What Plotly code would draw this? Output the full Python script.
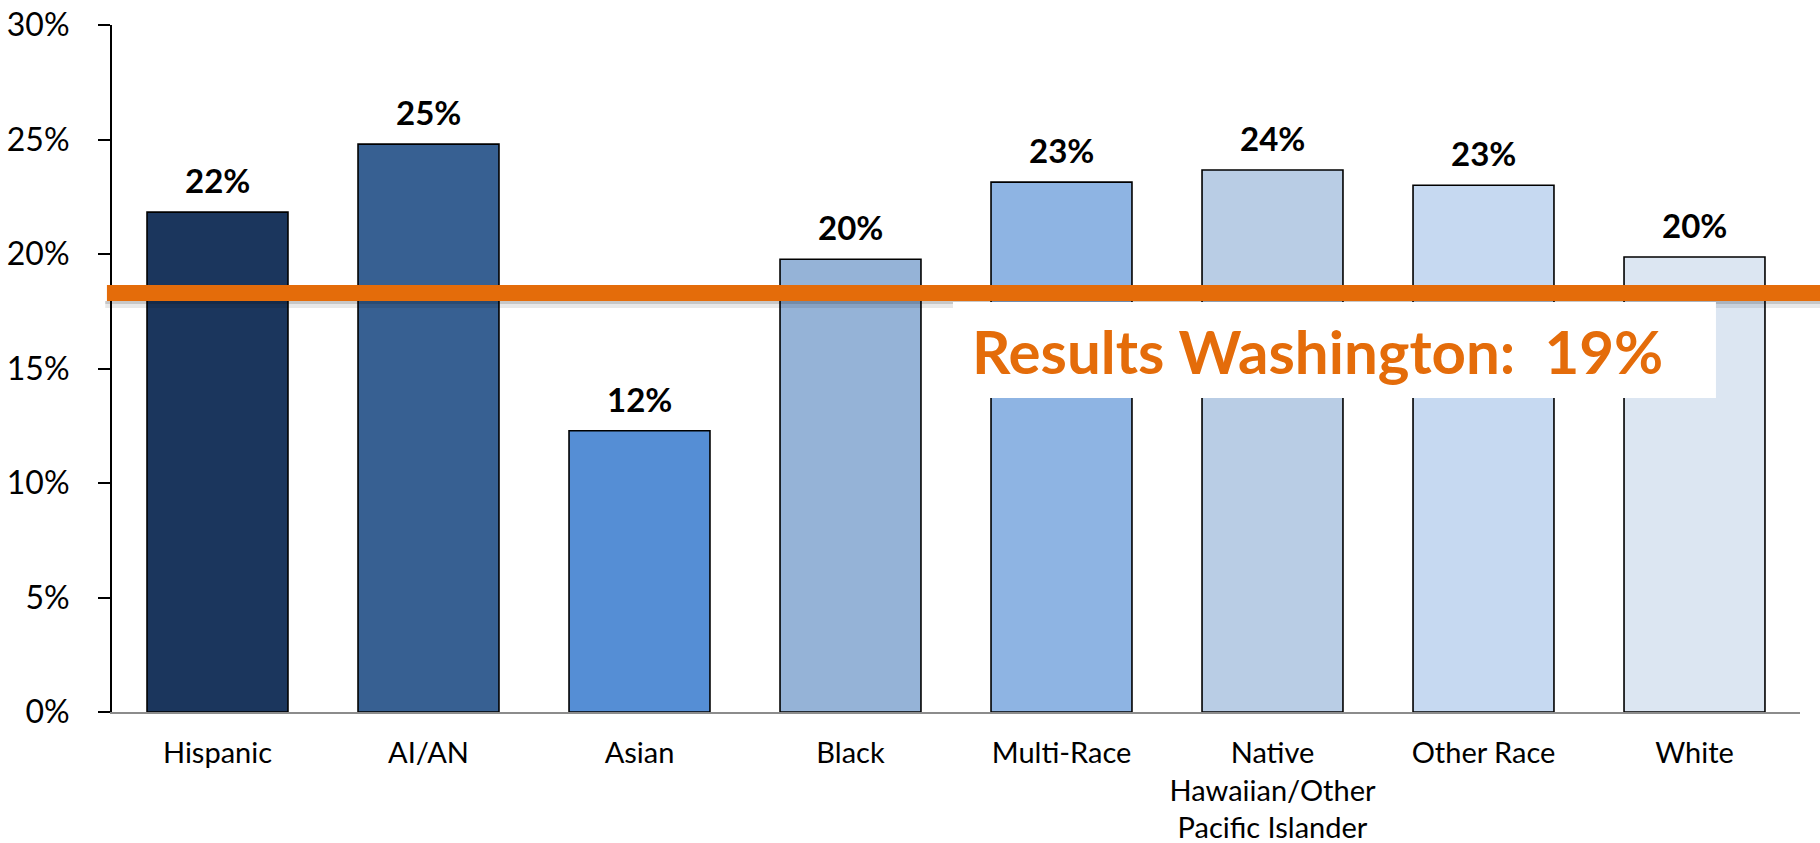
import plotly.graph_objects as go

categories = ["Hispanic", "AI/AN", "Asian", "Black", "Multi-Race",
              "Native<br>Hawaiian/Other<br>Pacific Islander", "Other Race", "White"]
values = [21.83, 24.80, 12.28, 19.77, 23.14, 23.67, 23.00, 19.87]
bar_colors = ["#1B365D", "#376092", "#558ED5", "#95B3D7", "#8EB4E3",
              "#B9CDE5", "#C6D9F1", "#DCE6F2"]
wa_value = 18.3
wa_label = "Results Washington:\u00a0 19%"
y_ticks = [0, 5, 10, 15, 20, 25, 30]
y_tick_labels = [f"{v}%" for v in y_ticks]

ORANGE = "#E46C0A"
FONT = "Lato"

fig = go.Figure()
fig.add_trace(go.Bar(
    x=categories, y=values,
    marker=dict(color=bar_colors, line=dict(color="#000000", width=1.6)),
    hoverinfo="skip",
))

annotations = []
for c, v in zip(categories, values):
    annotations.append(dict(
        x=c, y=v, xref="x", yref="y", text=f"<b>{round(v)}%</b>",
        showarrow=False, yanchor="bottom", yshift=10,
        font=dict(family=FONT, size=33, color="#000000"),
    ))

annotations.append(dict(
    x=0.5083, y=0.525, xref="paper", yref="paper", xanchor="left", yanchor="middle",
    text=f"<b>{wa_label}</b>", showarrow=False,
    font=dict(family=FONT, size=60, color=ORANGE),
))

shapes = [
    # shadow under the reference line
    dict(type="rect", xref="paper", yref="y", x0=-0.004, x1=1.02,
         ysizemode="pixel", yanchor=wa_value, y0=-11, y1=-8,
         fillcolor="rgba(0,0,0,0.22)", line=dict(width=0), layer="above"),
    dict(type="rect", xref="paper", yref="y", x0=-0.004, x1=1.02,
         ysizemode="pixel", yanchor=wa_value, y0=-15, y1=-11,
         fillcolor="rgba(0,0,0,0.09)", line=dict(width=0), layer="above"),
    # orange reference line
    dict(type="rect", xref="paper", yref="y", x0=-0.003, x1=1.02,
         ysizemode="pixel", yanchor=wa_value, y0=-8, y1=8,
         fillcolor=ORANGE, line=dict(width=0), layer="above"),
    # white label box
    dict(type="rect", xref="paper", yref="paper", x0=0.4982, x1=0.9502,
         y0=0.4571, y1=0.5968, fillcolor="#FFFFFF", line=dict(width=0), layer="above"),
]

fig.update_layout(
    width=1820, height=843,
    margin=dict(l=112, r=20, t=25, b=131, autoexpand=False),
    paper_bgcolor="#FFFFFF", plot_bgcolor="#FFFFFF",
    showlegend=False, bargap=0.332,
    annotations=annotations, shapes=shapes,
    font=dict(family=FONT, color="#000000"),
)
fig.update_xaxes(
    showline=True, linecolor="#8C8C8C", linewidth=2, ticks="",
    showgrid=False, zeroline=False, automargin=False,
    tickfont=dict(family=FONT, size=29, color="#000000"),
    ticklabelstandoff=14,
)
fig.update_yaxes(
    range=[0, 30], tickvals=y_ticks, ticktext=y_tick_labels,
    showline=True, linecolor="#000000", linewidth=2,
    ticks="outside", ticklen=12, tickwidth=2, tickcolor="#000000",
    showgrid=False, zeroline=False, automargin=False,
    tickfont=dict(family=FONT, size=32, color="#000000"),
    ticklabelstandoff=22,
)

fig.write_html("out.html", config={"displayModeBar": False},
               post_script="document.body.style.margin='0';document.body.style.overflow='hidden';")
